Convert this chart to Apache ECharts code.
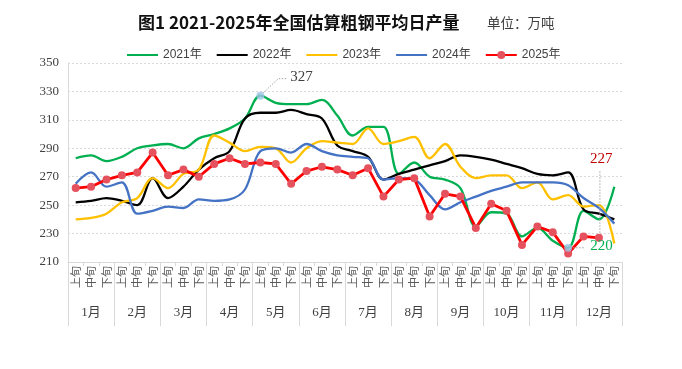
<!DOCTYPE html>
<html><head><meta charset="utf-8">
<script src="https://cdn.jsdelivr.net/npm/echarts@6/dist/echarts.min.js"></script>
<style>html,body{margin:0;padding:0;background:#fff}#c{width:682px;height:369px}</style>
</head><body><div id="c"></div>
<script>
const months = ['1月','2月','3月','4月','5月','6月','7月','8月','9月','10月','11月','12月'];
const dekads = ['上旬','中旬','下旬'];
const yTicks = {min: 210, max: 350, interval: 20};

const y2021 = [283,285,281,284,290,292,293,290,297,300,304,311,327,322,321,321,324,313,299,305,305,272,280,270,268,262,235,245,244,228,234,225,220,246,240,263];
const y2022 = [252,253,255,253,250,269,255,263,275,283,288,311,315,315,317,314,311,292,288,284,268,272,275,278,281,285,284,282,279,276,272,271,273,247,244,240];
const y2023 = [240,241,244,252,255,269,262,272,275,299,294,288,291,290,280,290,295,294,293,304,293,295,298,283,293,277,269,271,271,262,266,254,257,249,250,223];
const y2024 = [265,273,263,266,244,246,249,248,254,253,254,261,288,290,287,293,288,285,284,283,268,269,268,257,247,252,256,260,263,266,266,266,264,255,248,237];
const y2025 = [262,263,268,271,273,287,271,275,270,279,283,279,280,279,265,274,277,275,271,276,256,268,269,242,258,256,234,251,246,222,235,231,216,228,227];

const categories = [];
months.forEach(m => dekads.forEach(d => categories.push(m + d)));

const serif = '"Liberation Serif","Noto Sans CJK SC",serif';
const sans = '"Liberation Sans","Noto Sans CJK SC",sans-serif';
const cjk = '"Noto Sans CJK SC",sans-serif';

const chart = echarts.init(document.getElementById('c'), null, {renderer: 'canvas'});

function lineSeries(name, data, color, width) {
  return {
    name, type: 'line', data, smooth: 0.35, symbol: 'none',
    lineStyle: {color, width}, itemStyle: {color}, z: 2
  };
}

const maxIdx = y2021.indexOf(Math.max(...y2021));
const minIdx = y2021.indexOf(Math.min(...y2021));
const lastIdx = y2025.length - 1;
const hidden = {opacity: 0};

const option = {
  animation: false,
  backgroundColor: '#fff',
  title: [
    {text: '图1 2021-2025年全国估算粗钢平均日产量', left: 133, top: 9,
     textStyle: {fontSize: 17, fontWeight: 'bold', color: '#111', fontFamily: cjk}},
    {text: '单位：万吨', left: 482, top: 11,
     textStyle: {fontSize: 13.5, fontWeight: 'normal', color: '#404040', fontFamily: cjk}}
  ],
  legend: {
    data: [
      {name: '2021年', itemStyle: hidden},
      {name: '2022年', itemStyle: hidden},
      {name: '2023年', itemStyle: hidden},
      {name: '2024年', itemStyle: hidden},
      {name: '2025年'}
    ],
    left: 121, top: 44, itemWidth: 31, itemHeight: 10, itemGap: 14,
    textStyle: {fontSize: 12, color: '#404040', fontFamily: sans}
  },
  grid: {left: 68, right: 60, top: 63, bottom: 107},
  xAxis: [
    {type: 'category', data: categories, boundaryGap: true,
     axisLine: {show: true, lineStyle: {color: '#d9d9d9', width: 1}},
     axisTick: {show: true, length: 4, interval: 0, lineStyle: {color: '#d9d9d9'}},
     axisLabel: {interval: 0, rotate: 90, margin: 4, fontSize: 11, color: '#595959',
       fontFamily: cjk, formatter: v => v.slice(-2)}},
    {type: 'category', data: months, position: 'bottom', boundaryGap: true,
     axisLine: {show: false},
     axisTick: {show: true, length: 64, interval: 0, lineStyle: {color: '#d9d9d9'}},
     axisLabel: {interval: 0, margin: 44, fontSize: 13, color: '#404040', fontFamily: serif}}
  ],
  yAxis: {
    type: 'value', min: yTicks.min, max: yTicks.max, interval: yTicks.interval,
    axisLine: {show: true, lineStyle: {color: '#d9d9d9'}},
    axisTick: {show: false},
    axisLabel: {fontSize: 13, color: '#404040', fontFamily: serif, margin: 9},
    splitLine: {show: true, lineStyle: {color: '#d9d9d9', type: [2, 2], width: 1}}
  },
  series: [
    lineSeries('2021年', y2021, '#00b050', 2.3),
    lineSeries('2022年', y2022, '#000000', 2.3),
    lineSeries('2023年', y2023, '#ffc000', 2.3),
    lineSeries('2024年', y2024, '#4472c4', 2.3),
    {name: '2025年', type: 'line', data: y2025, smooth: false, symbol: 'circle', symbolSize: 8,
     lineStyle: {color: '#ff0000', width: 2.8}, itemStyle: {color: '#e5525e'}, z: 3},
    {type: 'scatter', data: [[maxIdx, y2021[maxIdx]], [minIdx, y2021[minIdx]]],
     symbol: 'circle', symbolSize: 8, itemStyle: {color: '#9dc3e6'}, z: 4}
  ]
};
chart.setOption(option);

const P = chart.convertToPixel({xAxisIndex: 0, yAxisIndex: 0}, [maxIdx, y2021[maxIdx]]);
const Q = chart.convertToPixel({xAxisIndex: 0, yAxisIndex: 0}, [minIdx, y2021[minIdx]]);
const R = chart.convertToPixel({xAxisIndex: 0, yAxisIndex: 0}, [lastIdx, y2025[lastIdx]]);
const dot = {stroke: '#a6a6a6', lineWidth: 1, lineDash: [1.5, 1.5], fill: null};
chart.setOption({
  graphic: [
    {type: 'polyline', shape: {points: [[P[0] + 3, P[1] - 3], [P[0] + 18, P[1] - 17], [P[0] + 26, P[1] - 17]]}, style: dot, z: 10},
    {type: 'text', left: P[0] + 30, top: P[1] - 26, style: {text: String(y2021[maxIdx]), fontSize: 15, fontFamily: serif, fill: '#404040'}, z: 10},
    {type: 'polyline', shape: {points: [[Q[0] + 5, Q[1]], [Q[0] + 17, Q[1]]]}, style: dot, z: 10},
    {type: 'text', left: Q[0] + 22, top: Q[1] - 9, style: {text: String(y2021[minIdx]), fontSize: 15, fontFamily: serif, fill: '#00b050'}, z: 10},
    {type: 'polyline', shape: {points: [[R[0] + 1, R[1] - 5], [R[0] + 1, R[1] - 67]]}, style: dot, z: 10},
    {type: 'text', left: R[0] - 9, top: R[1] - 86, style: {text: String(y2025[lastIdx]), fontSize: 15, fontFamily: serif, fill: '#c00000'}, z: 10}
  ]
});
</script>
</body></html>
